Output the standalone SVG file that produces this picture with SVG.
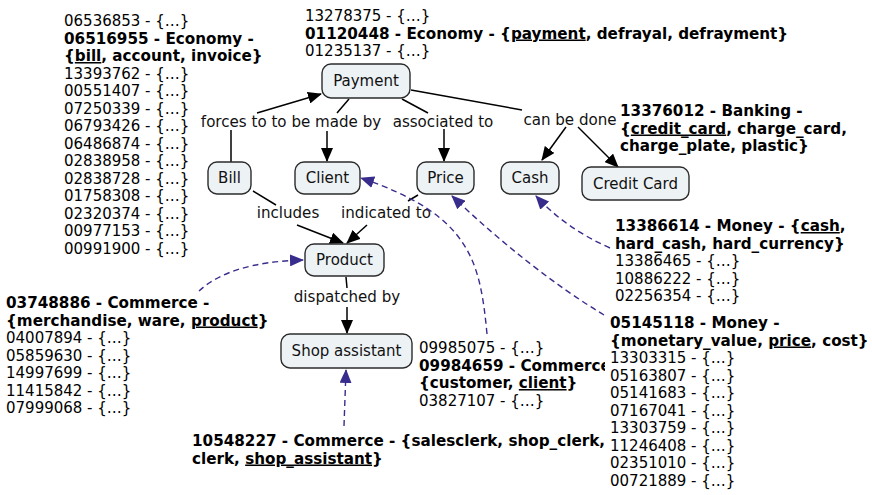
<svg xmlns="http://www.w3.org/2000/svg" width="872" height="495" viewBox="0 0 872 495">
<style>
text{font-family:"DejaVu Sans","Noto Sans",sans-serif;font-size:15px;fill:#000}
.b{font-weight:bold;font-size:15.2px}
.lbl{fill:#111;text-anchor:middle;font-size:15.1px}
.nt{text-anchor:middle;dominant-baseline:central;fill:#111}
.node rect{fill:#edf2f5;stroke:#2b2b2b;stroke-width:1.4}
.e{stroke:#000;stroke-width:1.5;fill:none}
.d{stroke:#382d8c;stroke-width:1.4;fill:none;stroke-dasharray:6 4}
</style>
<defs>
<marker id="a" markerUnits="userSpaceOnUse" markerWidth="14" markerHeight="12" viewBox="0 0 14 12" refX="13" refY="6" orient="auto"><path d="M0,0 L14,6 L0,12 z" fill="#000"/></marker>
<marker id="p" markerUnits="userSpaceOnUse" markerWidth="14" markerHeight="12" viewBox="0 0 14 12" refX="13" refY="6" orient="auto"><path d="M0,0 L14,6 L0,12 z" fill="#382d8c"/></marker>
</defs>
<rect width="872" height="495" fill="#fff"/>

<g id="texts">
<text x="64" y="26">06536853 - {…}</text>
<text x="64" y="43.5" class="b">06516955 - Economy -</text>
<text x="64" y="61" class="b">{<tspan text-decoration="underline">bill</tspan>, account, invoice}</text>
<text x="64" y="78.5">13393762 - {…}</text>
<text x="64" y="96">00551407 - {…}</text>
<text x="64" y="113.5">07250339 - {…}</text>
<text x="64" y="131">06793426 - {…}</text>
<text x="64" y="148.5">06486874 - {…}</text>
<text x="64" y="166">02838958 - {…}</text>
<text x="64" y="183.5">02838728 - {…}</text>
<text x="64" y="201">01758308 - {…}</text>
<text x="64" y="218.5">02320374 - {…}</text>
<text x="64" y="236">00977153 - {…}</text>
<text x="64" y="253.5">00991900 - {…}</text>

<text x="305" y="21">13278375 - {…}</text>
<text x="305" y="38.5" class="b">01120448 - Economy - {<tspan text-decoration="underline">payment</tspan>, defrayal, defrayment}</text>
<text x="305" y="56">01235137 - {…}</text>

<text x="620" y="116" class="b">13376012 - Banking -</text>
<text x="620" y="133.5" class="b">{<tspan text-decoration="underline">credit_card</tspan>, charge_card,</text>
<text x="620" y="151" class="b">charge_plate, plastic}</text>

<text x="615" y="231" class="b">13386614 - Money - {<tspan text-decoration="underline">cash</tspan>,</text>
<text x="615" y="248.5" class="b">hard_cash, hard_currency}</text>
<text x="615" y="266">13386465 - {…}</text>
<text x="615" y="283.5">10886222 - {…}</text>
<text x="615" y="301">02256354 - {…}</text>

<text x="6" y="308" class="b">03748886 - Commerce -</text>
<text x="6" y="325.5" class="b">{merchandise, ware, <tspan text-decoration="underline">product</tspan>}</text>
<text x="6" y="343">04007894 - {…}</text>
<text x="6" y="360.5">05859630 - {…}</text>
<text x="6" y="378">14997699 - {…}</text>
<text x="6" y="395.5">11415842 - {…}</text>
<text x="6" y="413">07999068 - {…}</text>

<text x="419" y="353">09985075 - {…}</text>
<text x="419" y="370.5" class="b">09984659 - Commerce -</text>
<text x="419" y="388" class="b">{customer, <tspan text-decoration="underline">client</tspan>}</text>
<text x="419" y="405.5">03827107 - {…}</text>

<rect x="605" y="313" width="267" height="182" fill="#fff"/>
<text x="610" y="328" class="b">05145118 - Money -</text>
<text x="610" y="345.5" class="b">{monetary_value, <tspan text-decoration="underline">price</tspan>, cost}</text>
<text x="610" y="363">13303315 - {…}</text>
<text x="610" y="380.5">05163807 - {…}</text>
<text x="610" y="398">05141683 - {…}</text>
<text x="610" y="415.5">07167041 - {…}</text>
<text x="610" y="433">13303759 - {…}</text>
<text x="610" y="450.5">11246408 - {…}</text>
<text x="610" y="468">02351010 - {…}</text>
<text x="610" y="485.5">00721889 - {…}</text>

<text x="192" y="446" class="b">10548227 - Commerce - {salesclerk, shop_clerk,</text>
<text x="192" y="463.5" class="b">clerk, <tspan text-decoration="underline">shop_assistant</tspan>}</text>
</g>

<g id="connectors">
<path class="e" d="M231,162 L231,130"/>
<path class="e" d="M257,113 L321,94" marker-end="url(#a)"/>
<path class="e" d="M349,99 L337,113"/>
<path class="e" d="M327,131 L327,161" marker-end="url(#a)"/>
<path class="e" d="M402,99 L428,113"/>
<path class="e" d="M444,129 L444,161" marker-end="url(#a)"/>
<path class="e" d="M411,90 L522,110"/>
<path class="e" d="M566,127 L542,160" marker-end="url(#a)"/>
<path class="e" d="M578,127 L618,167" marker-end="url(#a)"/>
<path class="e" d="M253,191 L276,205"/>
<path class="e" d="M297,225 L343,243" marker-end="url(#a)"/>
<path class="e" d="M418,195 L408,201"/>
<path class="e" d="M367,225 L347,243" marker-end="url(#a)"/>
<path class="e" d="M346,277 L347,288"/>
<path class="e" d="M347,307 L347,333" marker-end="url(#a)"/>
<text class="lbl" x="291" y="127">forces to to be made by</text>
<text class="lbl" x="443" y="127">associated to</text>
<text class="lbl" x="570" y="125">can be done</text>
<text class="lbl" x="288" y="218">includes</text>
<text class="lbl" x="386" y="218">indicated to</text>
<text class="lbl" x="347" y="302">dispatched by</text>
<path class="d" d="M199,291 Q230,262 303,260" marker-end="url(#p)"/>
<path class="d" d="M487,334 C480,260 470,215 361,178" marker-end="url(#p)"/>
<path class="d" d="M604,315 Q530,270 452,196" marker-end="url(#p)"/>
<path class="d" d="M610,248 Q565,228 536,196" marker-end="url(#p)"/>
<path class="d" d="M344,426 L346,370" marker-end="url(#p)"/>
</g>

<g id="node-payment" class="node"><rect x="322" y="64" width="88" height="34" rx="9"/><text class="nt" x="366" y="81">Payment</text></g>
<g id="node-bill" class="node"><rect x="208" y="162" width="43" height="32" rx="9"/><text class="nt" x="229.5" y="178">Bill</text></g>
<g id="node-client" class="node"><rect x="295" y="162" width="65" height="32" rx="9"/><text class="nt" x="327.5" y="178">Client</text></g>
<g id="node-price" class="node"><rect x="417" y="162" width="57" height="32" rx="9"/><text class="nt" x="445.5" y="178">Price</text></g>
<g id="node-cash" class="node"><rect x="501" y="162" width="58" height="32" rx="9"/><text class="nt" x="530" y="178">Cash</text></g>
<g id="node-creditcard" class="node"><rect x="582" y="167" width="107" height="33" rx="9"/><text class="nt" x="635.5" y="183.5">Credit Card</text></g>
<g id="node-product" class="node"><rect x="305" y="244" width="79" height="32" rx="9"/><text class="nt" x="344.5" y="260">Product</text></g>
<g id="node-shopassistant" class="node"><rect x="281" y="334" width="131" height="34" rx="9"/><text class="nt" x="346.5" y="351">Shop assistant</text></g>
</svg>
